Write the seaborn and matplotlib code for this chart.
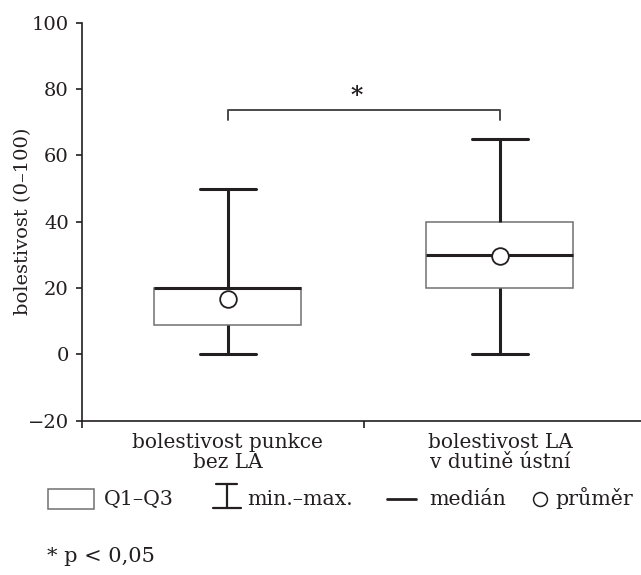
import numpy as np
import pandas as pd
import matplotlib
matplotlib.use("Agg")
import matplotlib.pyplot as plt
import seaborn as sns
from matplotlib.patches import Rectangle
from matplotlib.lines import Line2D

# ---- data ----
categories = ["bolestivost punkce\nbez LA", "bolestivost LA\nv dutině ústní"]
mins = [0, 0]
q1s = [9, 20]
medians = [20, 30]
q3s = [20, 40]
maxs = [50, 65]
means = [16.7, 29.7]
yticks = [-20, 0, 20, 40, 60, 80, 100]
ylabel = "bolestivost (0–100)"
legend_labels = ["Q1–Q3", "min.–max.", "medián", "průměr"]
sig_label = "*"
footnote = "* p < 0,05"

rows = []
for c, a, b, m, d, e in zip(categories, mins, q1s, medians, q3s, maxs):
    for v in (a, b, m, d, e):
        rows.append({"group": c, "value": v})
df = pd.DataFrame(rows)
df_mean = pd.DataFrame({"group": categories, "mean": means})

sns.set_theme(style="ticks")
plt.rcParams['font.family'] = ['DejaVu Serif', 'DejaVu Sans']
INK = '#231f20'
BOXEDGE = '#707070'
FS_TICK = 14
FS_CAT = 14.5
FS_LEG = 14.8

W, H = 641, 575
fig = plt.figure(figsize=(W / 100, H / 100), dpi=100)
fig.patch.set_facecolor('white')
ax_left, ax_right, ax_top, ax_bot = 82, 641, 22.8, 420.7
ax = fig.add_axes([ax_left / W, 1 - ax_bot / H, (ax_right - ax_left) / W, (ax_bot - ax_top) / H])

sns.boxplot(data=df, x="group", y="value", order=categories, whis=(0, 100),
            width=0.54, color='white', saturation=1, linecolor=INK, ax=ax,
            capwidths=0.206,
            boxprops=dict(edgecolor=BOXEDGE, facecolor='white', linewidth=1.1),
            whiskerprops=dict(color=INK, linewidth=2.2),
            capprops=dict(color=INK, linewidth=2.2),
            medianprops=dict(color=INK, linewidth=2.2))

sns.stripplot(data=df_mean, x="group", y="mean", order=categories, jitter=False,
              color='white', edgecolor=INK, linewidth=1.3, size=12, ax=ax, zorder=6)

ax.set_xlim(-0.535, 1.518)
ax.set_ylim(-20, 100)
ax.set_yticks(yticks)
ax.set_xticks([0, 1], categories)
ax.set_xticks([-0.535, 0.5], minor=True)
ax.set_xlabel("")
ax.set_ylabel(ylabel, fontsize=14, color=INK)
ax.yaxis.set_label_coords(-0.106, 0.5)
ax.yaxis.label.set_va('center')

ax.tick_params(axis='y', length=4.5, width=1.2, pad=5, labelsize=FS_TICK, colors=INK)
ax.tick_params(axis='x', which='major', length=0, pad=9, labelsize=FS_CAT, colors=INK)
ax.tick_params(axis='x', which='minor', length=5, width=1.2, colors=INK)
for lab in ax.get_xticklabels():
    lab.set_linespacing(1.05)

sns.despine(ax=ax)
for s in ('left', 'bottom'):
    ax.spines[s].set_color(INK)
    ax.spines[s].set_linewidth(1.2)

# significance bracket
ax.plot([0, 0, 1, 1], [70.8, 73.7, 73.7, 70.8], color='#4a4a4a', lw=1.4, clip_on=False)
ax.text(0.475, 78.0, sig_label, ha='center', va='center', fontsize=17,
        fontweight='bold', color=INK)

# ---- custom legend row ----
def fx(px):
    return px / W

def fy(py):
    return 1 - py / H

base = 505
fig.add_artist(Rectangle((fx(48), fy(509)), 46 / W, 20 / H, transform=fig.transFigure,
                         fill=False, edgecolor=BOXEDGE, lw=1.1))
fig.text(fx(104), fy(base), legend_labels[0], fontsize=FS_LEG, color=INK, va='baseline')

fig.add_artist(Line2D([fx(226.5), fx(226.5)], [fy(484), fy(508)], transform=fig.transFigure,
                      color=INK, lw=1.6))
fig.add_artist(Line2D([fx(216), fx(237)], [fy(484), fy(484)], transform=fig.transFigure,
                      color=INK, lw=1.6))
fig.add_artist(Line2D([fx(212.5), fx(240.5)], [fy(508), fy(508)], transform=fig.transFigure,
                      color=INK, lw=1.6))
fig.text(fx(247), fy(base), legend_labels[1], fontsize=FS_LEG, color=INK, va='baseline')

fig.add_artist(Line2D([fx(387), fx(416)], [fy(499), fy(499)], transform=fig.transFigure,
                      color=INK, lw=2.0))
fig.text(fx(429), fy(base), legend_labels[2], fontsize=FS_LEG, color=INK, va='baseline')

fig.add_artist(Line2D([fx(540)], [fy(499)], transform=fig.transFigure, marker='o',
                      markersize=10, markerfacecolor='white', markeredgecolor=INK,
                      markeredgewidth=1.1, linestyle='none'))
fig.text(fx(555), fy(base), legend_labels[3], fontsize=FS_LEG, color=INK, va='baseline')

fig.text(fx(47), fy(562), footnote, fontsize=15, color=INK, va='baseline')

fig.savefig("out.png", dpi=100, facecolor='white')
